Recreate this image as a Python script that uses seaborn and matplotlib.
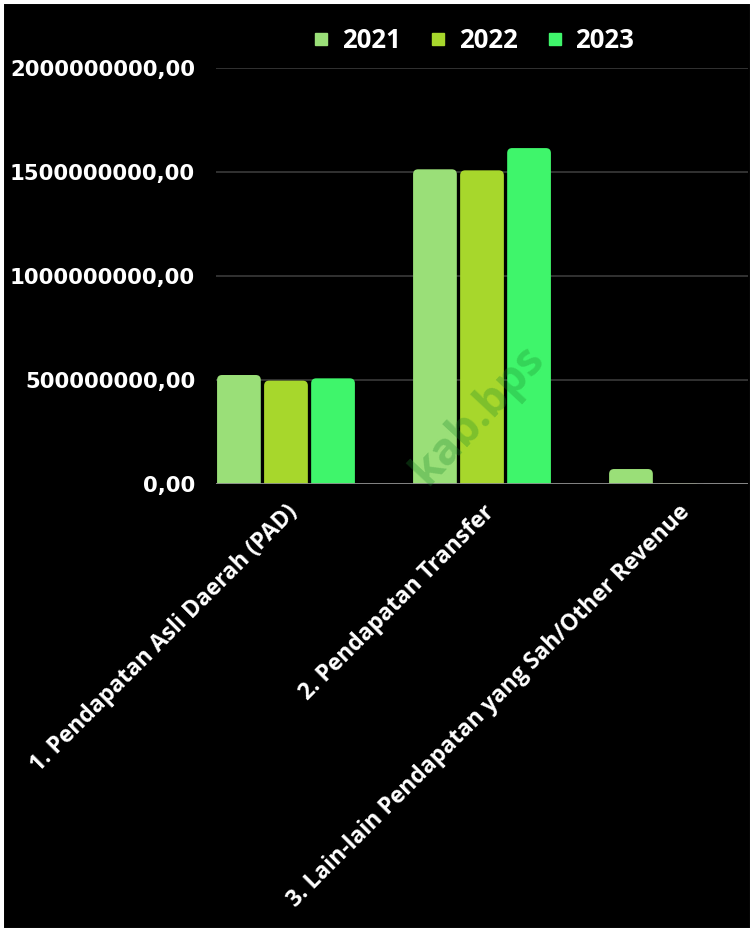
import matplotlib
matplotlib.use("Agg")
import matplotlib.pyplot as plt
import seaborn as sns
import pandas as pd
from matplotlib.patches import FancyBboxPatch, Rectangle
from matplotlib.lines import Line2D
from matplotlib.ticker import FuncFormatter

categories = ["1. Pendapatan Asli Daerah (PAD)",
              "2. Pendapatan Transfer",
              "3. Lain-lain Pendapatan yang Sah/Other Revenue"]
years = ["2021", "2022", "2023"]
v2021 = [524e6, 1513e6, 72e6]
v2022 = [497e6, 1508e6, 3e6]
v2023 = [508e6, 1615e6, 0.0]
colors = ["#9ADF78", "#A7D72C", "#3FF56B"]
yticks = [0, 5e8, 1e9, 1.5e9, 2e9]

rows = []
for yr, vals in zip(years, [v2021, v2022, v2023]):
    for c, v in zip(categories, vals):
        rows.append({"Kategori": c, "Tahun": yr, "Nilai": v})
df = pd.DataFrame(rows)

sns.set_theme(style="dark")
plt.rcParams["font.family"] = ["Open Sans", "DejaVu Sans"]

fig = plt.figure(figsize=(7.54, 9.32), dpi=100, facecolor="black")
ax = fig.add_axes([216/754, 1-484/932, 532/754, (484-68)/932])
ax.set_facecolor("black")

sns.barplot(data=df, x="Kategori", y="Nilai", hue="Tahun", palette=colors,
            order=categories, hue_order=years, width=0.72, gap=0.07,
            saturation=1, ax=ax, legend=False)

ax.set_xlim(-0.357, 2.357)
ax.set_ylim(0, 2e9)

# rounded bar tops
bars = [p for p in ax.patches if isinstance(p, Rectangle)]
px_x = 532 / (2.357 + 0.357)
px_y = (484 - 68) / 2e9
r = 5 / px_x
for p in bars:
    x, y0 = p.get_xy()
    w, h = p.get_width(), p.get_height()
    if h <= 0:
        continue
    fc = p.get_facecolor()
    p.set_visible(False)
    ext = 6 / px_y
    fb = FancyBboxPatch((x, y0 - ext), w, h + ext,
                        boxstyle=f"round,pad=0,rounding_size={r}",
                        mutation_aspect=(1/px_y)/(1/px_x),
                        facecolor=fc, edgecolor="none", zorder=3, clip_on=True)
    ax.add_patch(fb)

ax.set_yticks(yticks)
ax.yaxis.set_major_formatter(FuncFormatter(lambda v, _: f"{int(v)},00"))
ax.grid(axis="y", color="#3a3a3a", linewidth=1.2)
ax.grid(axis="x", visible=False)
ax.axhline(0, color="#8a8a8a", linewidth=1.3, zorder=4)
for s in ax.spines.values():
    s.set_visible(False)
ax.tick_params(axis="y", colors="white", labelsize=15.3, pad=15, length=0)
ax.tick_params(axis="x", colors="white", labelsize=16.5, pad=12, length=0)
for lab in ax.get_yticklabels():
    lab.set_fontweight("bold")
    lab.set_family(["DejaVu Sans"])
ax.set_xticks(range(len(categories)))
ax.set_xticklabels(categories, rotation=45, ha="right", rotation_mode="anchor",
                   fontweight="bold", color="white")
ax.set_xlabel("")
ax.set_ylabel("")

ax.text(0.98, 0.33e9, "kab.bps", rotation=47, fontsize=32, fontweight="bold",
        color="#1c8a2c", alpha=0.3, ha="center", va="center", zorder=6)

handles = [Line2D([0], [0], marker="s", linestyle="none", markersize=8,
                  markerfacecolor=c, markeredgecolor=c) for c in colors]
leg = fig.legend(handles, years, loc="center", bbox_to_anchor=(470/754, 1-40/932),
                 ncol=3, frameon=False, handletextpad=0.2, columnspacing=0.85,
                 handlelength=1.2, prop={"weight": "bold", "size": 18.5})
for t in leg.get_texts():
    t.set_color("white")

fig.patches.append(Rectangle((0, 0), 1, 1, transform=fig.transFigure,
                             facecolor="none", edgecolor="white", linewidth=5.8,
                             zorder=10))

fig.savefig("out.png", dpi=100, facecolor="black")
